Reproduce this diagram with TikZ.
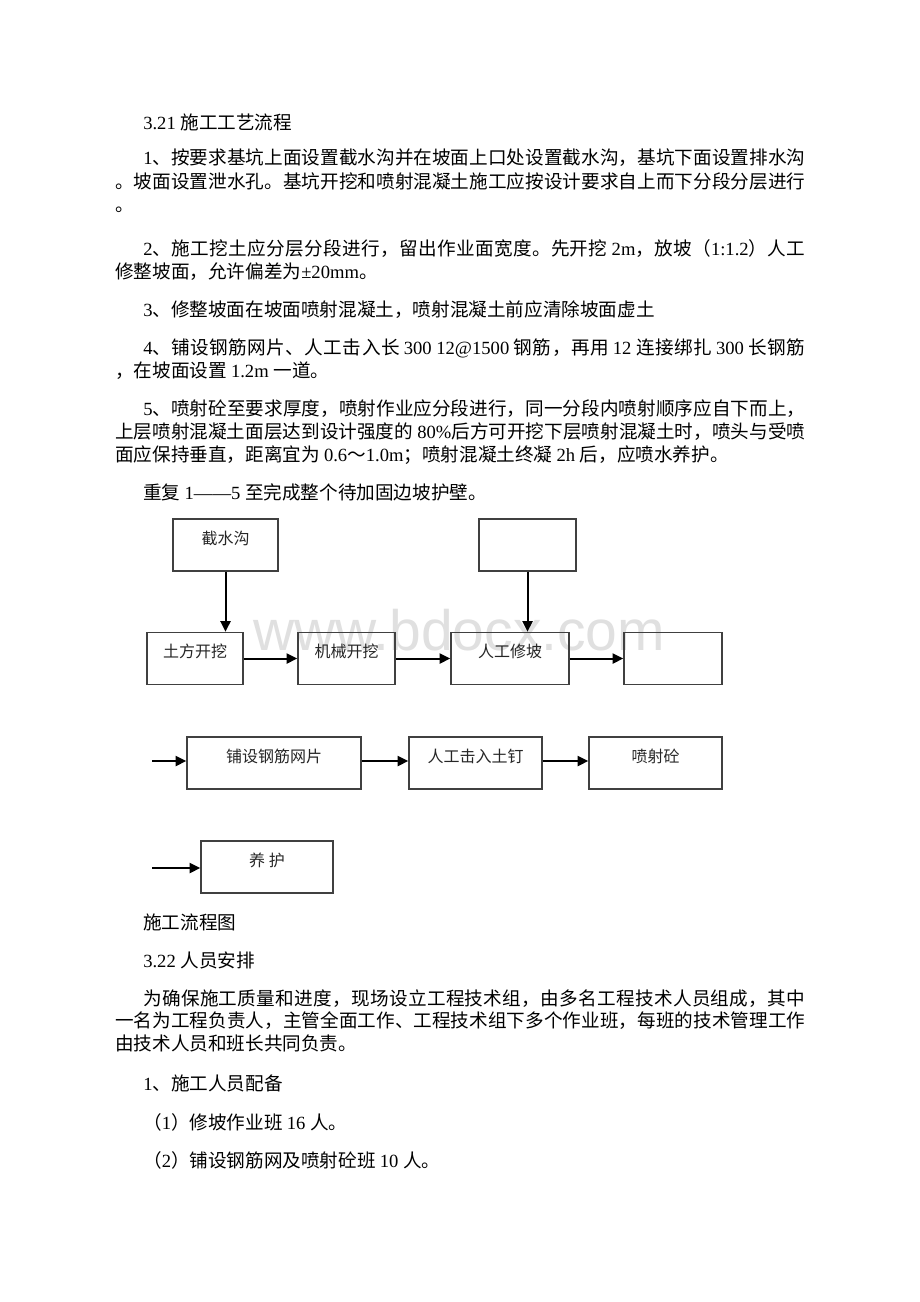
\documentclass[tikz,border=0pt]{standalone}
\usepackage{fontspec}
\usepackage{tikz}
\usetikzlibrary{arrows.meta}
\setmainfont{Liberation Serif}
\newfontfamily\cjkfont{Noto Sans CJK SC}
\newfontfamily\markfont{Liberation Sans}

% Chinese in the CJK font, the rest in Liberation Serif
\XeTeXinterchartokenstate=1
\chardef\cjkcls=7
\newcount\cjkcount
\newcommand\cjkrange[2]{\cjkcount=#1\relax
  \loop\XeTeXcharclass\cjkcount=\cjkcls
  \ifnum\cjkcount<#2\advance\cjkcount by 1\repeat}
\cjkrange{"4E00}{"9FFF}
\cjkrange{"3000}{"303F}
\cjkrange{"FF00}{"FFEF}
\XeTeXinterchartoks 0 \cjkcls = {\cjkfont}
\XeTeXinterchartoks 4095 \cjkcls = {\cjkfont}
\XeTeXinterchartoks \cjkcls 0 = {\rmfamily}
\XeTeXinterchartoks 4095 0 = {\rmfamily}
\XeTeXinterchartoks \cjkcls \cjkcls = {\hskip 0pt plus 1fil\relax}

\newcommand\fullline[1]{\hbox to 517.5pt{#1}}
\newcommand\firstline[1]{\hbox to 496.5pt{#1}}
\newcommand\wmfont{\XeTeXinterchartokenstate=0 \markfont\fontsize{42.75pt}{44pt}\selectfont}

\begin{document}
\begin{tikzpicture}[x=0.75pt,y=-0.75pt,
  body/.style={anchor=base west,inner sep=0pt,font=\fontsize{13.95pt}{16pt}\selectfont},
  stepbox/.style={draw=black!75,line width=1pt,inner xsep=0pt,inner ysep=0pt,
    minimum width=#1*0.75pt,text height=18.75pt,text depth=20.25pt,
    font=\fontsize{12pt}{14pt}\selectfont,text=black!85},
  flow/.style={-{Triangle[length=8pt,width=7.5pt]},line width=1.5pt}]

	\fill[white] (0,0) rectangle (920,1302);
	\useasboundingbox (0,0) rectangle (920,1302);

	\node[body] (t1) at (143,130) {3.21 施工工艺流程};
	\node[body] (t2) at (143,165) {\firstline{1、按要求基坑上面设置截水沟并在坡面上口处设置截水沟，基坑下面设置排水沟}};
	\node[body] (t3) at (115,188) {\fullline{。坡面设置泄水孔。基坑开挖和喷射混凝土施工应按设计要求自上而下分段分层进行}};
	\node[body] (t4) at (115,211) {。};
	\node[body] (t5) at (143,255) {\firstline{2、施工挖土应分层分段进行，留出作业面宽度。先开挖 2m，放坡（1:1.2）人工}};
	\node[body] (t6) at (115,278) {修整坡面，允许偏差为±20mm。};
	\node[body] (t7) at (143,316) {3、修整坡面在坡面喷射混凝土，喷射混凝土前应清除坡面虚土};
	\node[body] (t8) at (143,354) {\firstline{4、铺设钢筋网片、人工击入长 300 12@1500 钢筋，再用 12 连接绑扎 300 长钢筋}};
	\node[body] (t9) at (115,377) {，在坡面设置 1.2m 一道。};
	\node[body] (t10) at (143,415) {\firstline{5、喷射砼至要求厚度，喷射作业应分段进行，同一分段内喷射顺序应自下而上，}};
	\node[body] (t11) at (115,438) {\fullline{上层喷射混凝土面层达到设计强度的 80\%后方可开挖下层喷射混凝土时，喷头与受喷}};
	\node[body] (t12) at (115,461) {面应保持垂直，距离宜为 0.6～1.0m；喷射混凝土终凝 2h 后，应喷水养护。};
	\node[body] (t13) at (143,499) {重复 1——5 至完成整个待加固边坡护壁。};

	\node[anchor=base west,inner sep=0pt,font=\wmfont,text=black!12] (wm) at (253,650) {www.bdocx.com};

	% flow chart
	\node[stepbox=105] (jsg) at (225.5,545) {截水沟};
	\node[stepbox=97] (top2) at (527.5,545) {};
	\node[stepbox=96] (tf) at (195,658.5) {土方开挖};
	\node[stepbox=97] (jx) at (346.5,658.5) {机械开挖};
	\node[stepbox=118] (rg) at (510,658.5) {人工修坡};
	\node[stepbox=98] (rb) at (673,658.5) {};
	\node[stepbox=174] (pw) at (274,763) {铺设钢筋网片};
	\node[stepbox=133] (dd) at (475.5,763) {人工击入土钉};
	\node[stepbox=133] (pc) at (655.5,763) {喷射砼};
	\node[stepbox=132] (yh) at (267,867) {养 护};
	\coordinate (in2) at (152,761);
	\coordinate (in3) at (152,868);

	\draw[flow] (jsg.south) -- (jsg.south |- tf.north);
	\draw[flow] (top2.south) -- (top2.south |- rg.north);
	\draw[flow] (tf) -- (jx);
	\draw[flow] (jx) -- (rg);
	\draw[flow] (rg) -- (rb);
	\draw[flow] (in2) -- (in2 -| pw.west);
	\draw[flow] (pw.east |- in2) -- (dd.west |- in2);
	\draw[flow] (dd.east |- in2) -- (pc.west |- in2);
	\draw[flow] (in3) -- (in3 -| yh.west);

	\node[body] (t14) at (143,929) {施工流程图};
	\node[body] (t15) at (143,967) {3.22 人员安排};
	\node[body] (t16) at (143,1005) {\firstline{为确保施工质量和进度，现场设立工程技术组，由多名工程技术人员组成，其中}};
	\node[body] (t17) at (115,1027) {\fullline{一名为工程负责人，主管全面工作、工程技术组下多个作业班，每班的技术管理工作}};
	\node[body] (t18) at (115,1050) {由技术人员和班长共同负责。};
	\node[body] (t19) at (143,1090) {1、施工人员配备};
	\node[body] (t20) at (143,1129) {（1）修坡作业班 16 人。};
	\node[body] (t21) at (143,1167) {（2）铺设钢筋网及喷射砼班 10 人。};

\end{tikzpicture}
\end{document}
